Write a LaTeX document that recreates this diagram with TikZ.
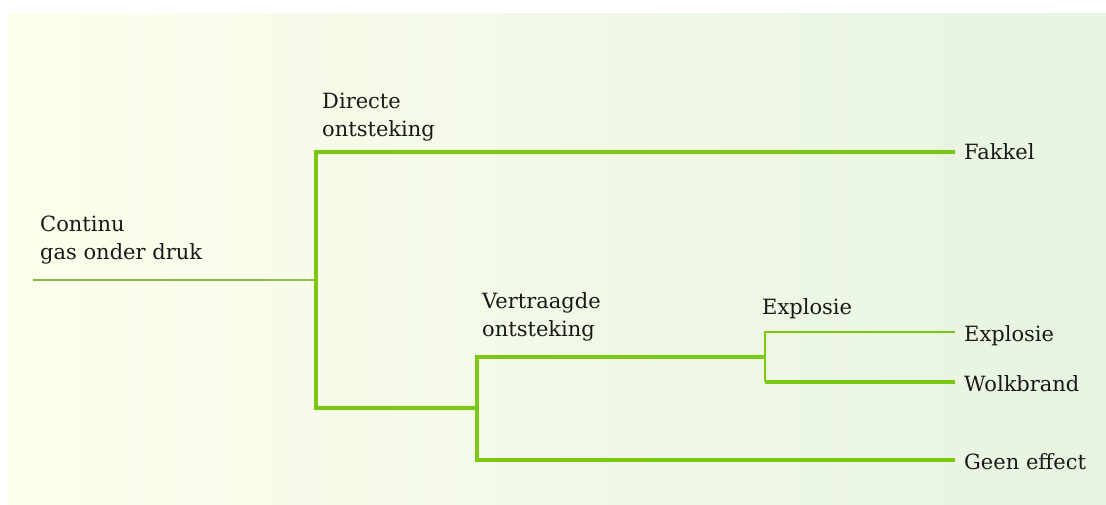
\documentclass[tikz,border=0pt]{standalone}
\usepackage{fontspec}
\setmainfont{DejaVu Serif}
\definecolor{lgreen}{RGB}{122,200,18}
\definecolor{rootgreen}{RGB}{135,190,70}
\definecolor{bgleft}{RGB}{253,254,236}
\definecolor{bgright}{RGB}{230,244,224}
\definecolor{txt}{RGB}{25,25,25}
\begin{document}
\begin{tikzpicture}[x=1pt,y=-1pt,
  branch/.style={draw=lgreen,line width=3.5pt,line join=miter},
  twig/.style={draw=lgreen,line width=2.2pt},
  rootline/.style={draw=rootgreen,line width=2pt},
  lbl/.style={text=txt,font=\fontsize{21}{28}\selectfont,align=left,inner sep=0pt,anchor=west},
  leaf/.style={text=txt,font=\fontsize{21}{28}\selectfont,inner xsep=9pt,inner ysep=0pt,anchor=west}]
\useasboundingbox (0,0) rectangle (1106,505);
\fill[white] (0,0) rectangle (1106,505);
\shade[left color=bgleft,right color=bgright] (8,14) rectangle (1106,505);
% coordinates
\coordinate (c0) at (33,280);
\coordinate (j1) at (316,280);
\coordinate (j1t) at (316,152);
\coordinate (j1b) at (316,408);
\coordinate (j2) at (477,408);
\coordinate (j2t) at (477,357);
\coordinate (j2b) at (477,460);
\coordinate (j3) at (765,357);
\coordinate (j3t) at (765,332);
\coordinate (j3b) at (765,382);
% labels
\node[lbl] (root) at (40,240) {Continu\\gas onder druk};
\node[lbl] (direct) at (322,117) {Directe\\ontsteking};
\node[lbl] (delay) at (482,317) {Vertraagde\\ontsteking};
\node[lbl] (expl) at (762,309) {Explosie};
% leaves
\node[leaf] (fakkel) at (955,152) {Fakkel};
\node[leaf] (explo) at (955,336) {Explosie};
\node[leaf] (wolk) at (955,384) {Wolkbrand};
\node[leaf] (geen) at (955,462) {Geen effect};
% connectors
\draw[rootline] (c0) -- (j1);
\draw[branch] (fakkel.west |- j1t) -- (j1t) -- (j1b) -- (j2);
\draw[branch] (j3) -- (j2t) -- (j2b) -- (geen.west |- j2b);
\draw[twig] (explo.west |- j3t) -- (j3t) -- (j3b);
\draw[branch] (j3b) -- (wolk.west |- j3b);
\end{tikzpicture}
\end{document}
